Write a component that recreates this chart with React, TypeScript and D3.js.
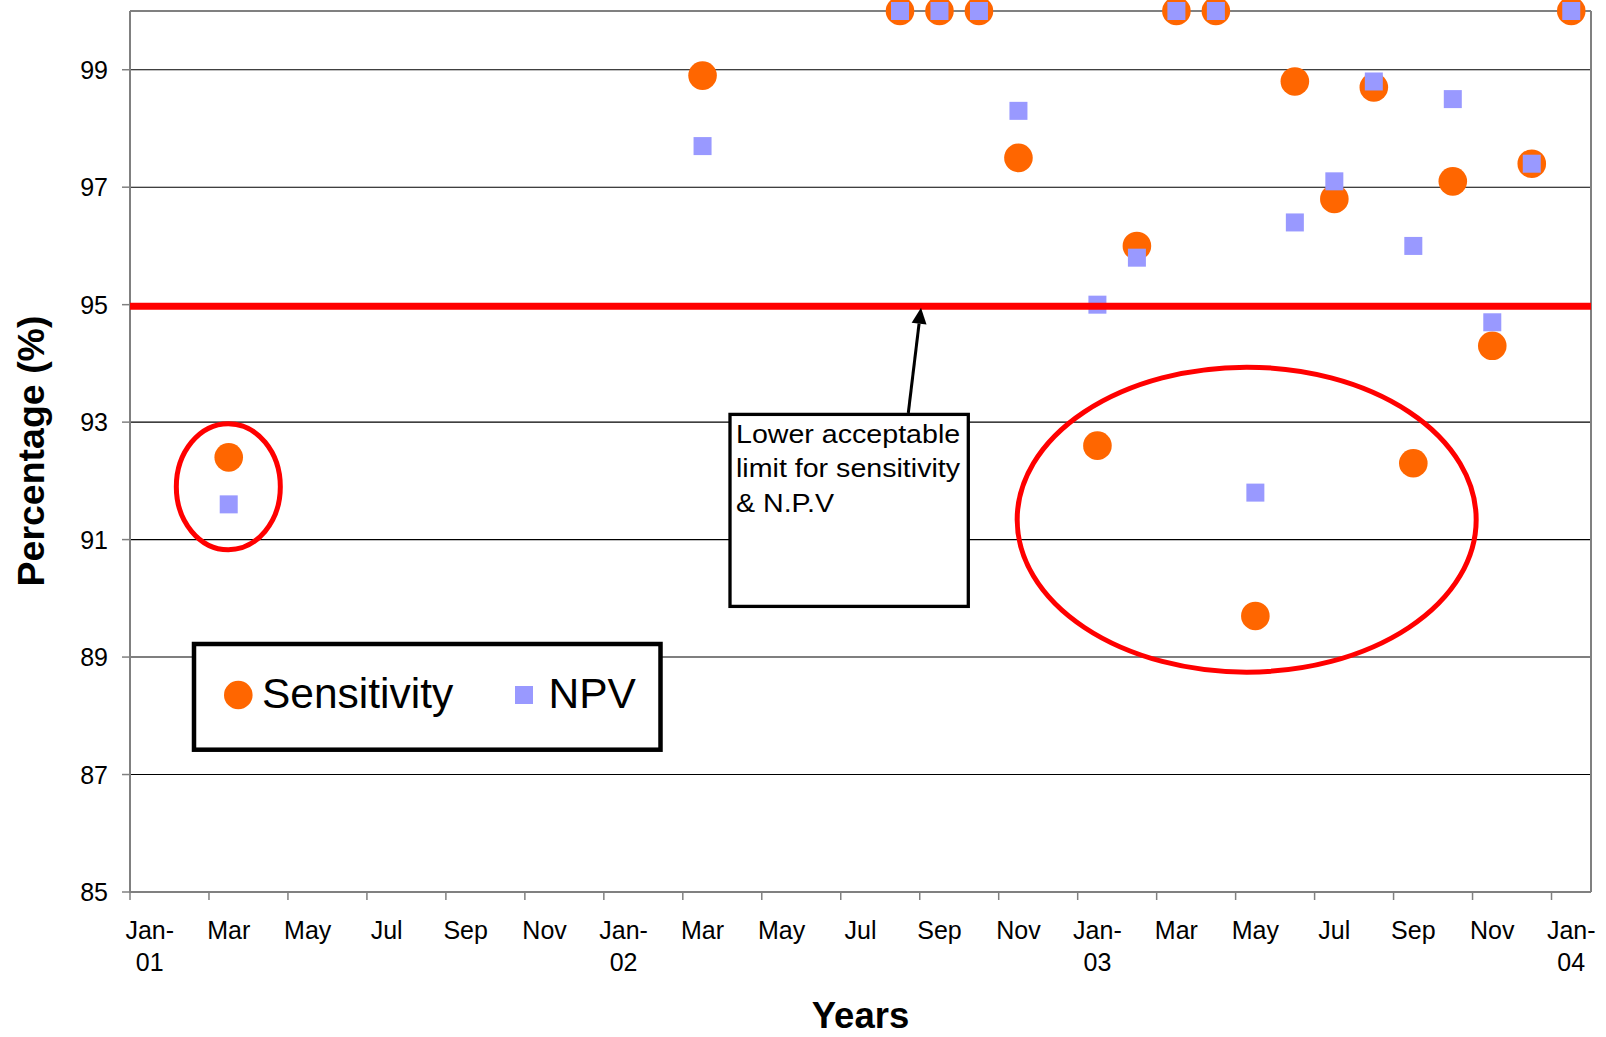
import React from 'react';
import * as d3 from 'd3';

// sample dates (one point per month, plotted mid-month like Excel's date axis)
const sampleMonths = [
  '2001-03', '2002-03', '2002-08', '2002-09', '2002-10', '2002-11',
  '2003-01', '2003-02', '2003-03', '2003-04', '2003-05', '2003-06',
  '2003-07', '2003-08', '2003-09', '2003-10', '2003-11', '2003-12', '2004-01',
];
const sensitivity = [92.4, 98.9, 100, 100, 100, 97.5, 92.6, 96.0, 100, 100, 89.7, 98.8, 96.8, 98.7, 92.3, 97.1, 94.3, 97.4, 100];
const npv = [91.6, 97.7, 100, 100, 100, 98.3, 95.0, 95.8, 100, 100, 91.8, 96.4, 97.1, 98.8, 96.0, 98.5, 94.7, 97.4, 100];

const yTicks = [85, 87, 89, 91, 93, 95, 97, 99];
const xTickLabels = [
  'Jan-01', 'Mar', 'May', 'Jul', 'Sep', 'Nov',
  'Jan-02', 'Mar', 'May', 'Jul', 'Sep', 'Nov',
  'Jan-03', 'Mar', 'May', 'Jul', 'Sep', 'Nov', 'Jan-04',
];
const limitValue = 95;
const annotationLines = ['Lower acceptable', 'limit for sensitivity', '& N.P.V'];

const W = 1606;
const H = 1037;
const FONT = '"Liberation Sans", Arial, sans-serif';
const ORANGE = '#FF6600';
const LILAC = '#9999FF';
const RED = '#FF0000';
const AXIS = '#808080';

const monthIndex = (s: string) => {
  const [y, m] = s.split('-').map(Number);
  return (y - 2001) * 12 + (m - 1);
};

const App = () => {
  const x = d3.scaleLinear().domain([0, 37]).range([130, 1591]);
  const y = d3.scaleLinear().domain([85, 100]).range([892, 11]);
  const left = x(0);
  const right = x(37);
  const top = y(100);
  const bottom = y(85);

  const sensPts = sampleMonths.map((m, i) => ({ cx: x(monthIndex(m) + 0.5), cy: y(sensitivity[i]) }));
  const npvPts = sampleMonths.map((m, i) => ({ cx: x(monthIndex(m) + 0.5), cy: y(npv[i]) }));

  // arrow from the annotation box up to the limit line
  const arrowFrom = [908.3, 413];
  const arrowTo = [921, y(limitValue) + 3];
  const dx = arrowTo[0] - arrowFrom[0];
  const dy = arrowTo[1] - arrowFrom[1];
  const len = Math.hypot(dx, dy);
  const ux = dx / len, uy = dy / len;
  const headL = 16, headW = 7.5;
  const bx = arrowTo[0] - ux * headL, by = arrowTo[1] - uy * headL;
  const head = [
    [arrowTo[0], arrowTo[1]],
    [bx - uy * headW, by + ux * headW],
    [bx + uy * headW, by - ux * headW],
  ].map(p => p.join(',')).join(' ');

  return (
    <svg width={W} height={H} style={{ position: 'absolute', left: 0, top: 0, background: '#fff' }} fontFamily={FONT}>
      <rect x={0} y={0} width={W} height={H} fill="#fff" />

      {/* gridlines */}
      {yTicks.filter(v => v !== 85).map(v => (
        <line key={'g' + v} x1={left} x2={right} y1={y(v)} y2={y(v)} stroke="#000" strokeWidth={1.1} />
      ))}

      {/* plot frame */}
      <line x1={left} x2={right} y1={top} y2={top} stroke={AXIS} strokeWidth={2} />
      <line x1={right} x2={right} y1={top} y2={bottom} stroke={AXIS} strokeWidth={2} />
      <line x1={left} x2={left} y1={top} y2={bottom + 1} stroke={AXIS} strokeWidth={2} />
      <line x1={left - 1} x2={right} y1={bottom} y2={bottom} stroke={AXIS} strokeWidth={2} />

      {/* y ticks and labels */}
      {yTicks.map(v => (
        <g key={'y' + v}>
          <line x1={left - 8} x2={left} y1={y(v)} y2={y(v)} stroke={AXIS} strokeWidth={1.5} />
          <text x={108} y={y(v)} dy="0.36em" textAnchor="end" fontSize={25} fill="#000">{v}</text>
        </g>
      ))}

      {/* x ticks and labels */}
      {xTickLabels.map((lab, i) => {
        const m = i * 2;
        const parts = lab.includes('-') ? [lab.split('-')[0] + '-', lab.split('-')[1]] : [lab];
        return (
          <g key={'x' + i}>
            <line x1={x(m)} x2={x(m)} y1={bottom} y2={bottom + 8} stroke={AXIS} strokeWidth={1.5} />
            {parts.map((p, j) => (
              <text key={j} x={x(m + 0.5)} y={939 + j * 32} textAnchor="middle" fontSize={25} fill="#000">{p}</text>
            ))}
          </g>
        );
      })}

      {/* series */}
      {sensPts.map((p, i) => (
        <circle key={'s' + i} cx={p.cx} cy={p.cy} r={14.3} fill={ORANGE} />
      ))}
      {npvPts.map((p, i) => (
        <rect key={'n' + i} x={p.cx - 9} y={p.cy - 9} width={18} height={18} fill={LILAC} />
      ))}

      {/* acceptable limit line */}
      <line x1={left} x2={right} y1={y(limitValue) + 1.5} y2={y(limitValue) + 1.5} stroke={RED} strokeWidth={7} />

      {/* highlight ellipses */}
      <ellipse cx={x(2.49)} cy={y(91.9)} rx={52} ry={63} fill="none" stroke={RED} strokeWidth={5} />
      <ellipse cx={x(28.28)} cy={y(91.34)} rx={229.5} ry={152.5} fill="none" stroke={RED} strokeWidth={5} />

      {/* annotation */}
      <line x1={arrowFrom[0]} y1={arrowFrom[1]} x2={bx} y2={by} stroke="#000" strokeWidth={3} />
      <polygon points={head} fill="#000" />
      <rect x={730} y={414.4} width={238.3} height={192} fill="#fff" stroke="#000" strokeWidth={3.3} />
      <g transform="translate(736,0) scale(1.1,1)">
        {annotationLines.map((t, i) => (
          <text key={i} x={0} y={442.7 + i * 34.5} fontSize={26} fill="#000">{t}</text>
        ))}
      </g>

      {/* legend */}
      <rect x={194} y={644} width={466.5} height={105.7} fill="#fff" stroke="#000" strokeWidth={4.5} />
      <circle cx={238.3} cy={695} r={14.3} fill={ORANGE} />
      <text x={262} y={708.3} fontSize={42.5} fill="#000">Sensitivity</text>
      <rect x={515} y={686} width={18} height={18} fill={LILAC} />
      <text x={548.5} y={708.3} fontSize={42.5} fill="#000">NPV</text>

      {/* axis titles */}
      <text x={(left + right) / 2} y={1028.3} textAnchor="middle" fontSize={36.5} fontWeight="bold" fill="#000">Years</text>
      <text transform="translate(44,451) rotate(-90)" textAnchor="middle" fontSize={37.5} fontWeight="bold" fill="#000">Percentage (%)</text>
    </svg>
  );
};

export default App;
